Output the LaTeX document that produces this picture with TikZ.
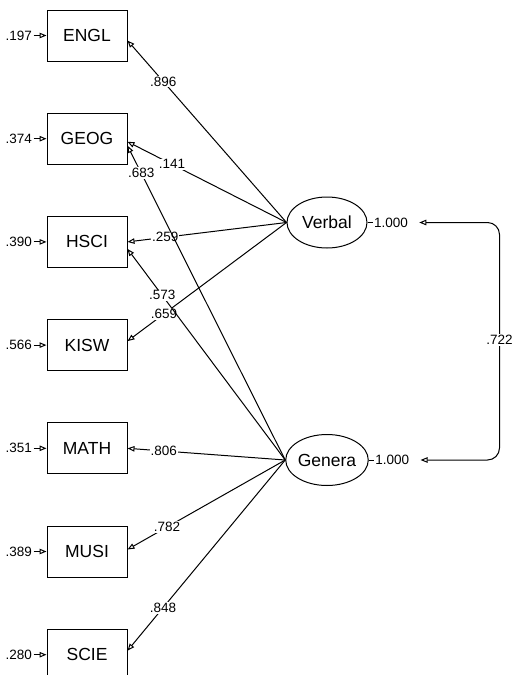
\documentclass[tikz,border=0pt]{standalone}
\usepackage{fontspec}
\setmainfont{Liberation Sans}
\usetikzlibrary{positioning, arrows.meta, shapes.geometric}

\begin{document}
\begin{tikzpicture}[x=1pt, y=-1pt, node distance=51.2pt, line width=1pt,
        obs/.style={draw, minimum width=80pt, minimum height=51pt, inner sep=0pt, font=\fontsize{17.5}{20}\selectfont},
        lat/.style={draw, ellipse, minimum width=80pt, minimum height=51pt, inner sep=0pt, font=\fontsize{17.5}{20}\selectfont},
        num/.style={inner sep=1pt, font=\fontsize{13.5}{15}\selectfont},
        load/.style={num, fill=white},
        arr/.style={-{Triangle[open, length=7pt, width=5.5pt]}},
        dbl/.style={{Triangle[open, length=7pt, width=5.5pt]}-{Triangle[open, length=7pt, width=5.5pt]}}]
        \useasboundingbox (0,0) rectangle (513,675);
        % observed variables
        \node[obs] (engl) at (87,35.5) {ENGL};
        \node[obs, below=of engl] (geog) {GEOG};
        \node[obs, below=of geog] (hsci) {HSCI};
        \node[obs, below=of hsci] (kisw) {KISW};
        \node[obs, below=of kisw] (math) {MATH};
        \node[obs, below=of math] (musi) {MUSI};
        \node[obs, below=of musi] (scie) {SCIE};
        % error variances
        \node[num, left=13pt of engl] (e1) {.197};
        \node[num, left=13pt of geog] (e2) {.374};
        \node[num, left=13pt of hsci] (e3) {.390};
        \node[num, left=13pt of kisw] (e4) {.566};
        \node[num, left=13pt of math] (e5) {.351};
        \node[num, left=13pt of musi] (e6) {.389};
        \node[num, left=13pt of scie] (e7) {.280};
        \draw[arr] (e1) -- (engl);
        \draw[arr] (e2) -- (geog);
        \draw[arr] (e3) -- (hsci);
        \draw[arr] (e4) -- (kisw);
        \draw[arr] (e5) -- (math);
        \draw[arr] (e6) -- (musi);
        \draw[arr] (e7) -- (scie);
        % latent factors
        \node[lat] (verbal) at (327,222.5) {Verbal};
        \node[lat] (genera) at (327,460) {Genera};
        \node[num, right=5pt of verbal] (vone) {1.000};
        \node[num, right=5pt of genera] (gone) {1.000};
        \draw (verbal) -- (vone);
        \draw (genera) -- (gone);
        % loadings
        \draw[arr] (verbal.west) -- node[load, pos=0.775] {.896} ([yshift=-5pt]engl.east);
        \draw[arr] (verbal.west) -- node[load, pos=0.72] {.141} ([yshift=-3pt]geog.east);
        \draw[arr] (verbal.west) -- node[load, pos=0.7625] {.259} (hsci.east);
        \draw[arr] (verbal.west) -- node[load, pos=0.77] {.659} ([yshift=4pt]kisw.east);
        \draw[arr] (genera.west) -- node[load, pos=0.9125] {.683} ([yshift=-7pt]geog.east);
        \draw[arr] (genera.west) -- node[load, pos=0.78] {.573} ([yshift=-7pt]hsci.east);
        \draw[arr] (genera.west) -- node[load, pos=0.77] {.806} (math.east);
        \draw[arr] (genera.west) -- node[load, pos=0.75] {.782} ([yshift=2pt]musi.east);
        \draw[arr] (genera.west) -- node[load, pos=0.775] {.848} ([yshift=4pt]scie.east);
        % factor correlation
        \coordinate (cr) at (499.5,340);
        \draw[dbl, rounded corners=12pt, shorten <=10pt, shorten >=10pt] (vone.east) -| (cr) |- (gone.east);
        \node[load] (rlab) at (cr) {.722};
      \end{tikzpicture}
\end{document}
